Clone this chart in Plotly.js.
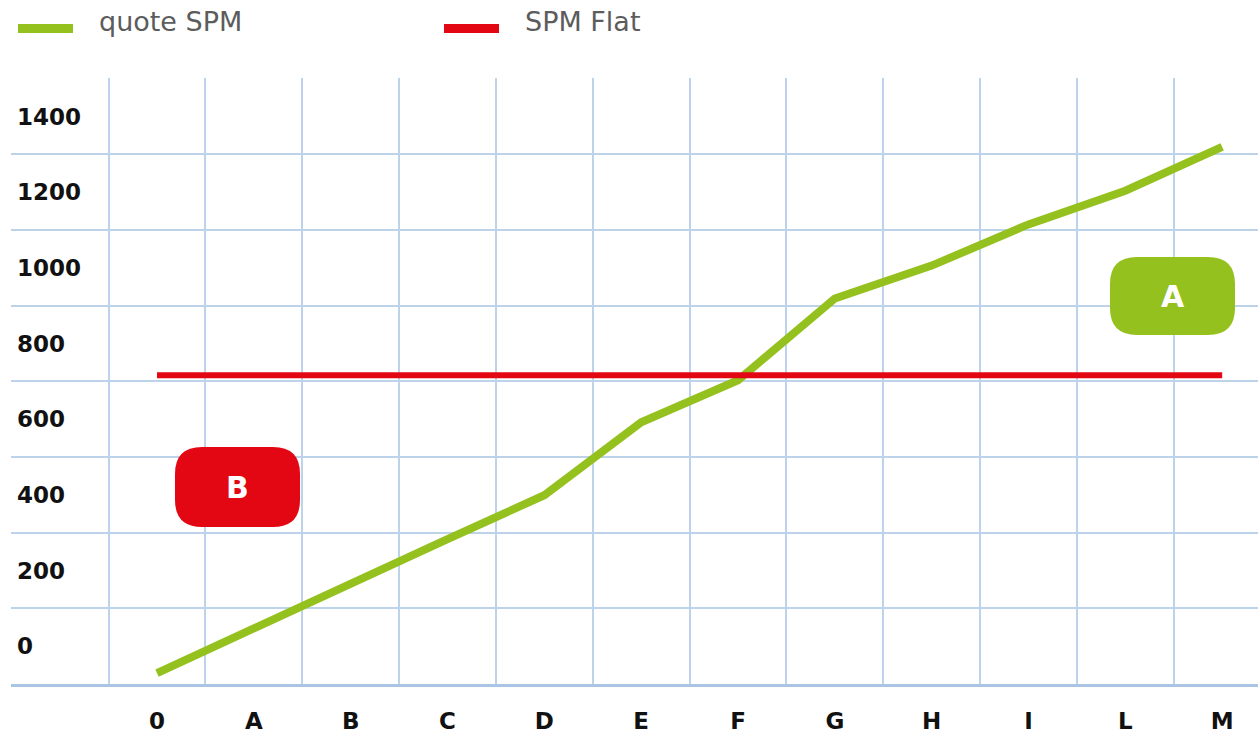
<!DOCTYPE html>
<html>
<head>
<meta charset="utf-8">
<script src="https://cdn.plot.ly/plotly-3.0.1.min.js"></script>
<style>html,body{margin:0;padding:0;background:#fff;}#chart{width:1258px;height:735px;}</style>
</head>
<body>
<div id="chart"></div>
<script>
// ---- data ----
var categories = ['0','A','B','C','D','E','F','G','H','I','L','M'];
var quoteSPM = [29, 148, 264, 383, 499, 692, 803, 1019, 1106, 1215, 1304, 1420];
var flatX = ['0','M'];
var spmFlat = [816, 816];
var gridVals = [0, 200, 400, 600, 800, 1000, 1200, 1400, 1600];
var yLabelVals = [100, 300, 500, 700, 900, 1100, 1300, 1500];
var yLabelText = ['0','200','400','600','800','1000','1200','1400'];
var seriesNames = ['quote SPM', 'SPM Flat'];
var badgeLabels = ['A', 'B'];

// ---- styling ----
var GREEN = '#95c11f', RED = '#e30613', GRID = '#bcd3ea';
var L = 11, T = 78, W = 1247, H = 606;

function px2paperX(p){ return (p - L) / W; }
function px2paperY(p){ return (T + H - p) / H; }
function roundRectPath(x0, y0, x1, y1, r){
  var a = px2paperX(x0), b = px2paperX(x1), c = px2paperY(y1), d = px2paperY(y0);
  var rx = r / W, ry = r / H;
  return 'M' + (a+rx) + ',' + c +
    ' L' + (b-rx) + ',' + c + ' Q' + b + ',' + c + ' ' + b + ',' + (c+ry) +
    ' L' + b + ',' + (d-ry) + ' Q' + b + ',' + d + ' ' + (b-rx) + ',' + d +
    ' L' + (a+rx) + ',' + d + ' Q' + a + ',' + d + ' ' + a + ',' + (d-ry) +
    ' L' + a + ',' + (c+ry) + ' Q' + a + ',' + c + ' ' + (a+rx) + ',' + c + ' Z';
}

var colors = [GREEN, RED];
var traces = [
  {x: categories, y: quoteSPM, type: 'scatter', mode: 'lines', name: seriesNames[0],
   line: {color: colors[0], width: 8}, hoverinfo: 'skip'},
  {x: flatX, y: spmFlat, type: 'scatter', mode: 'lines', name: seriesNames[1],
   line: {color: colors[1], width: 6}, yaxis: 'y2', hoverinfo: 'skip'}
];

var tickFont = {family: 'DejaVu Sans', size: 23, color: '#111111', weight: 700};

var badges = [
  {label: badgeLabels[0], color: GREEN, box: [1110, 257, 1235, 335]},
  {label: badgeLabels[1], color: RED, box: [175, 447, 300, 527]}
];

// manual legend (swatch + label per series)
var legendItems = [
  {name: seriesNames[0], color: colors[0], sx: 18},
  {name: seriesNames[1], color: colors[1], sx: 444}
];

var shapes = badges.map(function(b){
  return {type: 'path', xref: 'paper', yref: 'paper', layer: 'above',
          path: roundRectPath(b.box[0], b.box[1], b.box[2], b.box[3], 27),
          fillcolor: b.color, line: {width: 0}};
});
legendItems.forEach(function(it){
  shapes.push({type: 'line', xref: 'paper', yref: 'paper',
               x0: px2paperX(it.sx), x1: px2paperX(it.sx + 55),
               y0: px2paperY(28.5), y1: px2paperY(28.5),
               line: {color: it.color, width: 9}});
});

var annotations = badges.map(function(b){
  return {xref: 'paper', yref: 'paper', showarrow: false,
          x: px2paperX((b.box[0] + b.box[2]) / 2), y: px2paperY((b.box[1] + b.box[3]) / 2),
          xanchor: 'center', yanchor: 'middle', text: b.label,
          font: {family: 'DejaVu Sans', size: 30, color: '#ffffff', weight: 700}};
});
legendItems.forEach(function(it){
  annotations.push({xref: 'paper', yref: 'paper', showarrow: false,
                    x: px2paperX(it.sx + 79), y: px2paperY(22),
                    xanchor: 'left', yanchor: 'middle', text: it.name,
                    font: {family: 'DejaVu Sans', size: 27, color: '#5c5c5c'}});
});

var layout = {
  width: 1258, height: 735,
  margin: {l: L, r: 0, t: T, b: 735 - T - H, pad: 0},
  paper_bgcolor: '#ffffff', plot_bgcolor: '#ffffff',
  showlegend: false,
  xaxis: {type: 'category', categoryorder: 'array', categoryarray: categories,
          range: [-1.508, 11.37], tickson: 'boundaries', ticks: '',
          showgrid: true, gridcolor: GRID, gridwidth: 2,
          showline: true, linecolor: '#a9c5e3', linewidth: 3,
          zeroline: false, tickfont: tickFont, ticklabelstandoff: 14, fixedrange: true},
  yaxis: {range: [0, 1602], tickvals: gridVals, showticklabels: false, ticks: '',
          showgrid: true, gridcolor: GRID, gridwidth: 2, zeroline: false,
          showline: false, fixedrange: true},
  yaxis2: {range: [0, 1602], overlaying: 'y', side: 'left', tickvals: yLabelVals,
           ticktext: yLabelText, showgrid: false, zeroline: false, showline: false,
           ticks: '', ticklabelposition: 'inside', tickfont: tickFont,
           ticklabelstandoff: 3, fixedrange: true},
  shapes: shapes,
  annotations: annotations
};

Plotly.newPlot('chart', traces, layout, {displayModeBar: false, staticPlot: true});
</script>
</body>
</html>
